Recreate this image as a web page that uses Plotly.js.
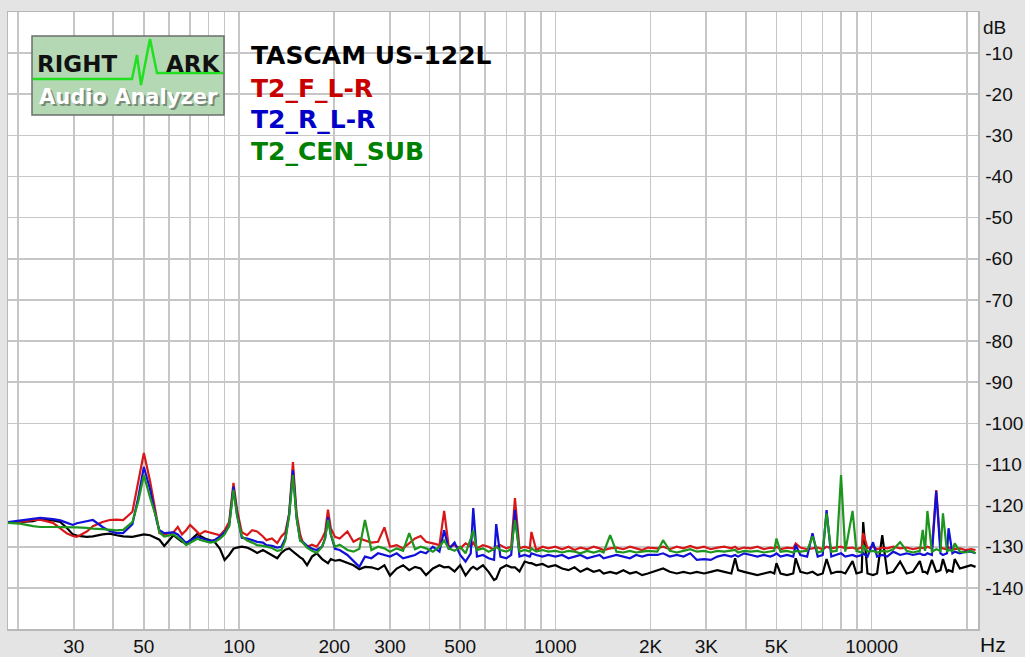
<!DOCTYPE html>
<html><head><meta charset="utf-8">
<script src="https://cdn.plot.ly/plotly-3.0.1.min.js"></script>
<style>html,body{margin:0;padding:0;background:#e4e4e4;}#chart{width:1025px;height:657px;}</style>
</head><body><div id="chart"></div>
<script>
// Frequencies (Hz) shared by all four spectra
const freqHz = [
 18.6,20.3,22.3,23.5,25.8,27.2,28.6,29.8,30.7,33,34.5,37,39,41,43,46,48,50,52.3,55,56,58,62,64,66,68,70,74,75,78,81,84,87,90,93,96,98.5,102,106,110,114,119,122,127,132,136,140,144,148,152,156,159,164,170,176,183,187,191,195,201,208,
 220,230,240,250,262,275,288,300,315,330,345,360,375,390,410,430,445,460,480,500,520,540,550,565,590,615,640,650,670,700,725,745,770,800,830,840,870,910,950,1000,1050,1100,1150,1200,1260,1320,1380,1420,1490,1560,1640,1720,1800,1880,1960,
 2100,2190,2300,2420,2540,2670,2800,2950,3100,3250,3420,3600,3700,3780,3950,4150,4350,4560,4780,4920,5000,5150,5400,5650,5750,5950,6250,6500,6750,7000,7200,7450,7750,8000,8250,8700,8950,9300,9400,9700,10100,10400,10800,11200,11700,12300,12900,13500,14200,14500,14750,15000,15500,16000,16500,16800,17300,17500,18000,18300,19000,19800,20600,21300
];
// TASCAM US-122L (black), dB
const tascamDb = [
 -124.2,-124.0,-123.8,-123.3,-123.6,-124.0,-125.5,-127.0,-127.3,-127.6,-127.5,-127.0,-126.8,-127.2,-127.5,-127.6,-127.3,-127.0,-127.2,-128.0,-128.3,-129.8,-127.2,-128.0,-128.8,-129.2,-128.5,-126.8,-127.3,-128.0,-128.4,-129.0,-130.5,-133.2,-132.0,-130.5,-130.2,-130.0,-130.2,-130.8,-131.5,-130.8,-131.3,-132.0,-132.8,-131.5,-130.7,-130.4,-131.2,-132.0,-132.6,-133.0,-134.5,-132.4,-131.6,-133.0,-133.6,-134.0,-133.0,-133.4,-133.2,
 -134.0,-134.5,-135.5,-134.9,-135.0,-135.5,-134.5,-137.0,-135.3,-134.5,-135.7,-134.9,-135.3,-136.9,-135.3,-134.5,-135.0,-134.9,-136.0,-134.5,-137.0,-135.3,-134.9,-135.5,-134.5,-136.1,-138.1,-137.8,-135.3,-134.5,-135.0,-135.0,-136.0,-133.6,-134.0,-134.0,-134.5,-134.2,-134.9,-134.5,-135.3,-135.7,-135.0,-136.1,-135.3,-136.1,-135.7,-136.5,-136.1,-136.5,-135.7,-136.5,-136.1,-136.9,-136.5,
 -135.7,-135.3,-136.1,-136.5,-136.1,-136.5,-136.1,-136.5,-136.1,-135.7,-136.1,-136.5,-132.8,-135.7,-136.1,-136.5,-136.9,-136.5,-136.1,-136.5,-134.0,-136.5,-136.9,-136.5,-132.8,-136.1,-136.5,-136.1,-136.9,-136.5,-133.0,-136.5,-136.1,-136.1,-136.5,-133.5,-136.5,-136.1,-124.0,-136.5,-136.9,-136.5,-127.2,-136.5,-136.1,-133.6,-136.5,-136.1,-133.5,-136.1,-136.1,-136.5,-133.2,-136.1,-135.7,-133.0,-136.1,-135.7,-136.1,-133.0,-135.3,-134.9,-134.5,-134.9
];
// T2_F_L-R (red), dB
const frontLRDb = [
 -124.0,-124.0,-123.5,-123.4,-124.2,-125.5,-126.8,-127.4,-127.6,-126.3,-125.0,-124.0,-123.5,-123.4,-123.5,-121.5,-114.0,-107.2,-114.0,-122.8,-126.7,-127.0,-126.5,-125.2,-127.0,-126.0,-124.7,-126.5,-127.0,-126.2,-126.5,-126.8,-127.2,-126.0,-124.0,-114.5,-121.0,-126.5,-127.2,-126.0,-126.3,-127.5,-128.4,-128.0,-129.1,-127.5,-126.5,-122.0,-109.4,-122.0,-127.0,-129.0,-130.0,-129.5,-130.0,-128.0,-126.5,-121.0,-125.5,-127.6,-128.0,
 -126.3,-128.8,-128.0,-128.4,-129.0,-128.8,-125.3,-130.0,-129.6,-130.4,-129.2,-128.0,-127.4,-128.8,-129.2,-129.6,-121.3,-130.0,-129.6,-130.4,-129.2,-130.0,-129.0,-130.4,-129.6,-130.0,-130.8,-130.0,-129.6,-130.4,-130.0,-118.2,-130.4,-130.0,-130.4,-126.4,-130.8,-130.0,-130.4,-130.0,-130.6,-130.0,-130.8,-130.2,-130.6,-130.0,-130.4,-130.8,-130.4,-130.2,-130.6,-130.0,-130.4,-130.8,-130.2,
 -130.4,-130.0,-130.6,-130.0,-130.4,-129.8,-130.4,-130.0,-130.6,-130.2,-130.0,-130.4,-130.0,-130.6,-130.2,-130.4,-130.0,-130.6,-130.2,-130.4,-130.0,-130.6,-130.2,-130.4,-129.2,-130.2,-130.6,-130.4,-130.2,-130.6,-130.0,-130.4,-130.2,-130.0,-130.4,-130.2,-130.6,-130.2,-126.7,-130.4,-130.0,-130.6,-130.2,-130.4,-130.0,-130.4,-130.2,-130.6,-130.2,-130.4,-130.4,-130.0,-130.4,-116.2,-130.2,-130.4,-130.6,-130.2,-130.4,-130.6,-130.4,-130.8,-130.6,-130.8
];
// T2_R_L-R (blue), dB
const rearLRDb = [
 -124.0,-123.6,-123.3,-123.0,-123.3,-123.6,-124.2,-124.7,-124.3,-123.7,-123.5,-125.2,-126.2,-126.7,-126.7,-124.5,-118.0,-110.6,-116.0,-124.0,-126.0,-126.7,-126.5,-127.0,-128.0,-129.1,-128.5,-127.6,-127.8,-128.2,-128.6,-128.3,-127.5,-126.5,-125.0,-115.4,-122.0,-127.8,-128.0,-128.4,-128.8,-129.0,-129.6,-129.8,-130.2,-130.0,-128.0,-122.0,-111.4,-123.0,-128.5,-128.8,-129.8,-130.5,-130.8,-130.0,-128.0,-122.8,-127.0,-130.5,-130.8,
 -132.0,-133.5,-134.9,-132.4,-132.8,-131.6,-132.0,-132.4,-131.6,-132.8,-132.4,-132.0,-131.2,-131.6,-130.0,-131.2,-126.0,-130.6,-129.0,-132.0,-133.6,-131.6,-120.6,-132.4,-132.0,-132.8,-133.2,-124.5,-132.4,-132.8,-132.0,-121.1,-132.4,-132.0,-132.4,-131.6,-132.0,-132.4,-132.0,-132.4,-132.0,-132.8,-132.4,-132.0,-132.8,-132.4,-132.0,-132.8,-132.4,-132.0,-132.4,-132.8,-132.0,-132.4,-132.0,
 -132.0,-131.6,-132.4,-132.0,-132.4,-131.6,-133.2,-133.0,-133.2,-132.4,-132.0,-132.4,-132.0,-132.4,-131.6,-132.0,-132.4,-132.0,-132.4,-132.0,-131.6,-132.4,-132.0,-132.4,-129.6,-132.0,-132.4,-126.7,-132.4,-132.0,-121.1,-132.4,-132.0,-131.6,-132.4,-132.0,-132.4,-132.0,-131.6,-132.4,-128.9,-132.4,-132.0,-132.4,-131.2,-132.0,-131.6,-132.0,-131.6,-132.0,-132.0,-131.6,-132.0,-116.5,-131.6,-132.0,-131.6,-125.5,-131.6,-131.2,-131.6,-131.2,-131.2,-131.6
];
// T2_CEN_SUB (green), dB
const cenSubDb = [
 -124.2,-124.4,-125.0,-125.2,-125.2,-125.2,-125.2,-125.2,-125.3,-125.4,-125.6,-125.7,-125.9,-126.0,-125.9,-124.0,-119.0,-112.6,-118.0,-123.5,-126.5,-127.5,-127.0,-127.8,-128.5,-129.6,-129.0,-128.0,-128.3,-128.7,-129.0,-128.8,-128.0,-127.0,-125.0,-116.2,-122.5,-127.5,-128.5,-129.0,-129.6,-129.8,-130.0,-130.3,-131.0,-130.8,-128.5,-122.5,-112.6,-123.0,-128.5,-129.0,-130.2,-131.0,-131.5,-130.0,-128.0,-123.5,-127.0,-130.0,-129.5,
 -130.8,-131.2,-130.5,-123.5,-130.8,-130.0,-130.4,-131.2,-130.4,-131.0,-126.7,-130.6,-130.0,-130.4,-131.2,-130.0,-128.5,-130.4,-131.0,-130.0,-131.6,-128.0,-126.0,-130.8,-130.4,-131.2,-130.6,-130.0,-130.8,-131.2,-130.6,-123.5,-131.2,-130.8,-131.2,-130.4,-131.2,-130.8,-131.2,-131.0,-131.4,-131.0,-131.2,-131.6,-131.0,-131.4,-131.0,-131.4,-127.2,-131.2,-131.4,-131.0,-131.4,-131.2,-131.0,
 -131.2,-128.4,-131.0,-131.4,-131.0,-130.6,-131.2,-131.0,-131.4,-131.0,-131.2,-131.0,-130.8,-131.4,-131.0,-131.2,-131.0,-131.4,-131.2,-131.0,-128.0,-131.2,-131.0,-131.4,-131.0,-131.2,-131.0,-127.5,-131.4,-131.0,-121.9,-131.2,-131.0,-112.6,-131.2,-121.3,-131.0,-131.4,-129.6,-131.2,-131.0,-131.4,-131.0,-131.2,-130.6,-128.9,-131.0,-131.4,-131.0,-125.9,-131.0,-121.3,-131.2,-130.6,-131.0,-121.9,-131.2,-130.8,-131.0,-129.2,-131.2,-131.4,-131.0,-131.6
];
const seriesNames = ['TASCAM US-122L','T2_F_L-R','T2_R_L-R','T2_CEN_SUB'];
const seriesColors = ['#000000','#d81818','#1010d8','#1c961c'];
const legendColors = ['#000000','#c80000','#0000c8','#008000'];
const xGridHz = [20,30,40,50,60,70,80,90,100,200,300,400,500,600,700,800,900,1000,2000,3000,4000,5000,6000,7000,8000,9000,10000,20000];
const xLabels = {30:'30',50:'50',100:'100',200:'200',300:'300',500:'500',1000:'1000',2000:'2K',3000:'3K',5000:'5K',10000:'10000'};
const yTickDb = [-140,-130,-120,-110,-100,-90,-80,-70,-60,-50,-40,-30,-20,-10];

const L=8,R=978,T=12,B=629;
const px = x => (x-L)/(R-L);
const py = y => (B-y)/(B-T);

const ys=[tascamDb,frontLRDb,rearLRDb,cenSubDb];
const traces = ys.map((y,i)=>({
  type:'scatter',mode:'lines',x:freqHz,y:y,name:seriesNames[i],
  line:{color:seriesColors[i],width:2.2},hoverinfo:'skip'
}));

const legFont = c => ({family:'DejaVu Sans',size:25,color:c,weight:'bold'});
const legendY=[55.5,88.5,120,151];
const annotations = seriesNames.map((n,i)=>({
  xref:'paper',yref:'paper',x:px(249),y:py(legendY[i]),xanchor:'left',yanchor:'middle',
  text:n,showarrow:false,font:legFont(legendColors[i])
}));
annotations.push(
 {xref:'paper',yref:'paper',x:px(981),y:py(27),xanchor:'left',yanchor:'middle',text:'dB',showarrow:false,font:{family:'Liberation Sans',size:19,color:'#111'}},
 {xref:'paper',yref:'paper',x:px(978),y:py(644),xanchor:'left',yanchor:'middle',text:'Hz',showarrow:false,font:{family:'Liberation Sans',size:21,color:'#111'}},
 {xref:'paper',yref:'paper',x:px(35),y:py(64.5),xanchor:'left',yanchor:'middle',text:'RIGHT',showarrow:false,font:{family:'DejaVu Sans',size:23,color:'#111',weight:'bold'}},
 {xref:'paper',yref:'paper',x:px(164),y:py(64.5),xanchor:'left',yanchor:'middle',text:'ARK',showarrow:false,font:{family:'DejaVu Sans',size:23,color:'#111',weight:'bold'}},
 {xref:'paper',yref:'paper',x:px(38.5),y:py(98.5),xanchor:'left',yanchor:'middle',text:'Audio Analyzer',showarrow:false,font:{family:'DejaVu Sans',size:21,color:'#7a8a7a',weight:'bold'}},
 {xref:'paper',yref:'paper',x:px(37),y:py(97),xanchor:'left',yanchor:'middle',text:'Audio Analyzer',showarrow:false,font:{family:'DejaVu Sans',size:21,color:'#ffffff',weight:'bold'}}
);
const shapes = [
 {type:'rect',xref:'paper',yref:'paper',x0:px(32),x1:px(224),y0:py(115),y1:py(36),fillcolor:'#b4d8b4',line:{color:'#6e6e6e',width:1.5},layer:'above'},
 {type:'path',xref:'paper',yref:'paper',layer:'above',
  path:`M ${px(33)},${py(79)} L ${px(132)},${py(79)} L ${px(137)},${py(55)} L ${px(141)},${py(85)} L ${px(150)},${py(39)} L ${px(157)},${py(73)} L ${px(223)},${py(73)}`,
  line:{color:'#20e020',width:2.5}}
];

const layout = {
  width:1025,height:657,
  margin:{l:L,r:1025-R,t:T,b:657-B,pad:0},
  paper_bgcolor:'#e4e4e4',plot_bgcolor:'#ffffff',
  showlegend:false,
  xaxis:{type:'log',range:[1.26941,4.33612],tickvals:xGridHz,ticktext:xGridHz.map(v=>xLabels[v]||''),
    showgrid:true,gridcolor:'#c6c6c6',gridwidth:1.6,zeroline:false,showline:true,mirror:true,linecolor:'#b8b8b8',linewidth:1.5,
    ticks:'',tickfont:{family:'Liberation Sans',size:19,color:'#111'},fixedrange:true},
  yaxis:{range:[-150,0],side:'right',tickvals:yTickDb,ticktext:yTickDb.map(String),
    showgrid:true,gridcolor:'#c6c6c6',gridwidth:1.6,zeroline:false,showline:true,mirror:true,linecolor:'#b8b8b8',linewidth:1.5,
    ticks:'',ticklabelstandoff:2,tickfont:{family:'Liberation Sans',size:19,color:'#111'},fixedrange:true},
  annotations:annotations,shapes:shapes
};
Plotly.newPlot('chart',traces,layout,{staticPlot:true,displayModeBar:false});
</script>
</body></html>
